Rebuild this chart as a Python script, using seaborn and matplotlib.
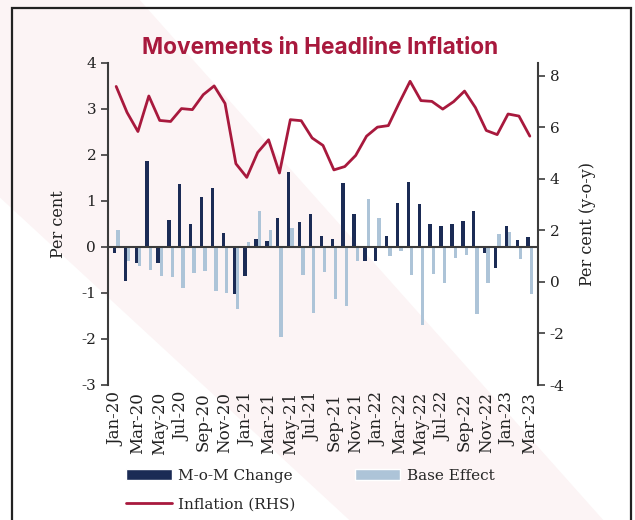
import numpy as np
import pandas as pd
import matplotlib
matplotlib.use("Agg")
import matplotlib.pyplot as plt
from matplotlib.patches import Patch, Rectangle, Polygon
from matplotlib.lines import Line2D
import seaborn as sns

# Month labels, Jan-20 to Mar-23
months = ['Jan-20', 'Feb-20', 'Mar-20', 'Apr-20', 'May-20', 'Jun-20', 'Jul-20', 'Aug-20',
          'Sep-20', 'Oct-20', 'Nov-20', 'Dec-20', 'Jan-21', 'Feb-21', 'Mar-21', 'Apr-21',
          'May-21', 'Jun-21', 'Jul-21', 'Aug-21', 'Sep-21', 'Oct-21', 'Nov-21', 'Dec-21',
          'Jan-22', 'Feb-22', 'Mar-22', 'Apr-22', 'May-22', 'Jun-22', 'Jul-22', 'Aug-22',
          'Sep-22', 'Oct-22', 'Nov-22', 'Dec-22', 'Jan-23', 'Feb-23', 'Mar-23']

# month-on-month change (per cent)
mom_change = [-0.14, -0.74, -0.34, 1.88, -0.34, 0.59, 1.38, 0.51, 1.09, 1.28, 0.31, -1.02,
              -0.64, 0.18, 0.12, 0.63, 1.64, 0.55, 0.72, 0.24, 0.17, 1.40, 0.72, -0.31,
              -0.31, 0.23, 0.96, 1.42, 0.93, 0.51, 0.45, 0.51, 0.57, 0.79, -0.13, -0.46,
              0.45, 0.16, 0.22]

# base effect (per cent)
base_effect = [0.36, -0.30, -0.41, -0.51, -0.63, -0.65, -0.89, -0.57, -0.53, -0.96, -1.00, -1.34,
               0.10, 0.78, 0.36, -1.95, 0.41, -0.61, -1.43, -0.54, -1.14, -1.28, -0.30, 1.04,
               0.64, -0.20, -0.09, -0.61, -1.70, -0.58, -0.78, -0.24, -0.17, -1.46, -0.78, 0.29,
               0.33, -0.26, -1.02]

# headline CPI inflation y-o-y (per cent), right axis
inflation = [7.59, 6.58, 5.84, 7.22, 6.27, 6.23, 6.73, 6.69, 7.27, 7.61, 6.93, 4.59,
             4.06, 5.03, 5.52, 4.23, 6.30, 6.26, 5.59, 5.30, 4.35, 4.48, 4.91, 5.66,
             6.01, 6.07, 6.95, 7.79, 7.04, 7.01, 6.71, 7.00, 7.41, 6.77, 5.88, 5.72,
             6.52, 6.44, 5.66]

navy = '#1b2b55'
light = '#adc4d8'
crimson = '#a8193d'

bars = pd.DataFrame({
    'month': months * 2,
    'value': mom_change + base_effect,
    'series': ['M-o-M Change'] * len(months) + ['Base Effect'] * len(months),
})
line = pd.DataFrame({'pos': np.arange(len(months)), 'inflation': inflation})

sns.set_style('white')
plt.rcParams['font.family'] = ['DejaVu Serif']
plt.rcParams['axes.unicode_minus'] = False

fig = plt.figure(figsize=(6.35, 5.2), dpi=100)

# very faint watermark band behind the chart
fig.patches.append(Polygon([(0.0, 1.0), (0.22, 1.0), (0.95, 0.0), (0.55, 0.0), (0.0, 0.62)],
                           closed=True, transform=fig.transFigure, facecolor='#fcf4f5',
                           edgecolor='none', zorder=-5))
fig.patches.append(Rectangle((12 / 635, -0.02), (631 - 12) / 635, 1.02 - 8 / 520,
                             transform=fig.transFigure, fill=False, edgecolor='#222222',
                             lw=1.6, zorder=10))

ax = fig.add_axes([108 / 635, 1 - 385 / 520, (538 - 108) / 635, (385 - 63) / 520])
ax.patch.set_alpha(0)

sns.barplot(data=bars, x='month', y='value', hue='series', order=months,
            hue_order=['M-o-M Change', 'Base Effect'],
            palette={'M-o-M Change': navy, 'Base Effect': light},
            width=0.62, dodge=True, legend=False, ax=ax, saturation=1,
            linewidth=0, edgecolor='none')

ax.axhline(0, color='#3c3c3c', lw=1.5, zorder=3)
ax.set_ylim(-3, 4)
ax.set_yticks(range(-3, 5))
ax.set_xlim(-0.75, len(months) - 0.25)
ax.set_xticks(range(0, len(months), 2))
ax.set_xticklabels(months[::2], rotation=90, fontsize=12, color='#222222')
ax.tick_params(axis='x', length=0, pad=5)
ax.tick_params(axis='y', length=5, width=1.2, color='#3c3c3c', labelsize=11,
               labelcolor='#222222', left=True)
ax.set_xlabel('')
ax.set_ylabel('Per cent', fontsize=11.5, color='#222222', labelpad=10)
for s in ['top', 'right', 'bottom']:
    ax.spines[s].set_visible(False)
ax.spines['left'].set_color('#3c3c3c')
ax.spines['left'].set_linewidth(1.5)

ax2 = ax.twinx()
sns.lineplot(data=line, x='pos', y='inflation', color=crimson, lw=2.0, ax=ax2)
ax2.set_ylim(-4, 8.5)
ax2.set_yticks(range(-4, 9, 2))
ax2.set_xlim(-0.75, len(months) - 0.25)
ax2.tick_params(axis='y', length=5, width=1.2, color='#3c3c3c', labelsize=11,
                labelcolor='#222222', right=True)
ax2.set_ylabel('Per cent (y-o-y)', fontsize=11.5, color='#222222', labelpad=10)
ax2.set_xlabel('')
for s in ['top', 'left', 'bottom']:
    ax2.spines[s].set_visible(False)
ax2.spines['right'].set_color('#3c3c3c')
ax2.spines['right'].set_linewidth(1.5)

fig.text(320 / 635, 1 - 48 / 520, 'Movements in Headline Inflation', ha='center', va='center',
         fontsize=16.3, fontweight='bold', color=crimson, family=['Inter', 'DejaVu Sans'])

handles = [Patch(facecolor=navy, label='M-o-M Change'),
           Line2D([], [], color=crimson, lw=2.0, label='Inflation (RHS)'),
           Patch(facecolor=light, label='Base Effect')]
fig.legend(handles=handles, ncol=2, loc='upper left', bbox_to_anchor=(112 / 635, 1 - 455 / 520),
           frameon=False, fontsize=11, handlelength=3.0, handleheight=0.75,
           columnspacing=3.9, labelspacing=0.95, handletextpad=0.4)

fig.savefig('out.png', dpi=100)
